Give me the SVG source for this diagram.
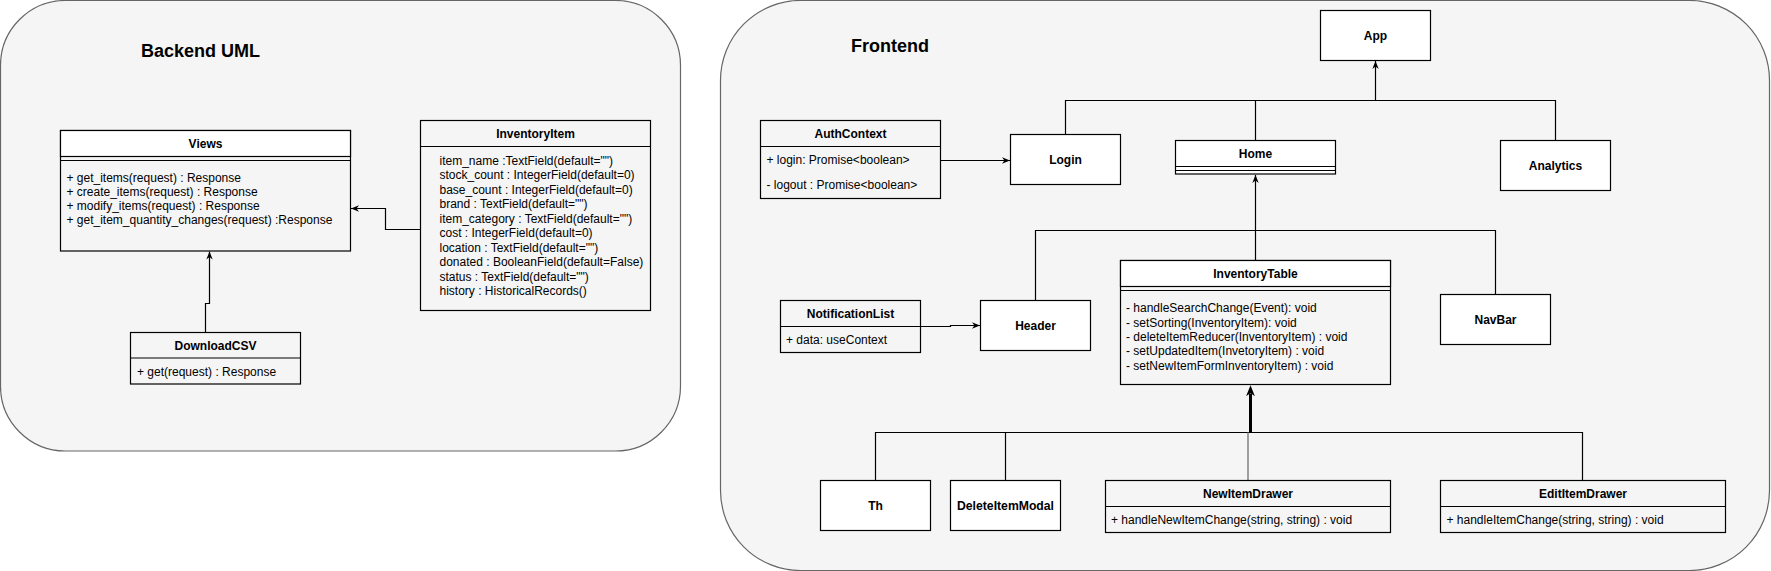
<svg xmlns="http://www.w3.org/2000/svg" width="1771" height="571" viewBox="0 0 1771 571">
<style>
.cont{fill:#f5f5f5;stroke:#666666;stroke-width:1.2}
.box{fill:#ffffff;stroke:#000000;stroke-width:1.2}
.cls{fill:#f5f5f5;stroke:#000000;stroke-width:1.2}
.hd{fill:#ffffff;stroke:#000000;stroke-width:1.2}
.ln{stroke:#000000;stroke-width:1.2;fill:none}
.t{font-family:"Liberation Sans",Arial,Helvetica,sans-serif;font-size:12px;fill:#000000;dominant-baseline:central}
.b{font-weight:bold;text-anchor:middle}
.title{font-family:"Liberation Sans",Arial,Helvetica,sans-serif;font-size:18px;font-weight:bold;fill:#000000;dominant-baseline:central}
.c{fill:none;stroke:#000000;stroke-width:1.2}
</style>
<defs>
<marker id="arr" viewBox="0 0 10 10" refX="10" refY="5" markerWidth="8" markerHeight="8" markerUnits="userSpaceOnUse" orient="auto">
<path d="M0,1 L10,5 L0,9 L3,5 Z" fill="#000000"/>
</marker>
<marker id="arrBig" viewBox="0 0 10 10" refX="2.5" refY="5" markerWidth="11" markerHeight="11" markerUnits="userSpaceOnUse" orient="auto">
<path d="M0,1 L10,5 L0,9 L3,5 Z" fill="#000000"/>
</marker>
</defs>

<g id="backend-container">
<rect class="cont" x="0.5" y="0.5" width="680" height="450.5" rx="65" ry="65"/>
<text class="title" x="141" y="51">Backend UML</text>
</g>
<g id="frontend-container">
<rect class="cont" x="720.5" y="0.5" width="1049" height="570" rx="80" ry="80"/>
<text class="title" x="851" y="46">Frontend</text>
</g>

<g id="connectors">
<path class="c" d="M420.5,229.5 H385.5 V208.5 H351" marker-end="url(#arr)"/>
<path class="c" d="M205.5,332.5 V303.5 H209.5 V251.5" marker-end="url(#arr)"/>
<path class="c" d="M940.5,160.5 H1010" marker-end="url(#arr)"/>
<path class="c" d="M1065.5,134.5 V100.5 H1555.5 V140.5"/>
<path class="c" d="M1255.5,140.5 V100.5"/>
<path class="c" d="M1375.5,100.5 V61" marker-end="url(#arr)"/>
<path class="c" d="M1035.5,300.5 V230.5 H1495.5 V294.5"/>
<path class="c" d="M1255.5,260.5 V175" marker-end="url(#arr)"/>
<path class="c" d="M920.5,326.5 H950.5 V325.5 H980" marker-end="url(#arr)"/>
<path class="c" d="M875.5,480.5 V432.5 H1582.5 V480.5"/>
<path class="c" d="M1005.5,480.5 V432.5"/>
<path d="M1248,480.5 V432.5" fill="none" stroke="#808080" stroke-width="1.5"/>
<path d="M1250.5,433 V393.5" fill="none" stroke="#000000" stroke-width="3" marker-end="url(#arrBig)"/>
</g>

<g id="views">
<rect class="cls" x="60.5" y="130.5" width="290" height="120.5"/>
<rect class="hd" x="60.5" y="130.5" width="290" height="26"/>
<line class="ln" x1="60.5" y1="160.5" x2="350.5" y2="160.5"/>
<text class="t b" x="205.5" y="143.5">Views</text>
<text class="t" x="66.5" y="177.5">+ get_items(request) : Response</text>
<text class="t" x="66.5" y="191.8">+ create_items(request) : Response</text>
<text class="t" x="66.5" y="206">+ modify_items(request) : Response</text>
<text class="t" x="66.5" y="220.3">+ get_item_quantity_changes(request) :Response</text>
</g>

<g id="inventory-item">
<rect class="cls" x="420.5" y="120.5" width="230" height="190"/>
<line class="ln" x1="420.5" y1="146.5" x2="650.5" y2="146.5"/>
<text class="t b" x="535.5" y="134">InventoryItem</text>
<text class="t" x="439.5" y="160.5">item_name :TextField(default="")</text>
<text class="t" x="439.5" y="175">stock_count : IntegerField(default=0)</text>
<text class="t" x="439.5" y="189.5">base_count : IntegerField(default=0)</text>
<text class="t" x="439.5" y="204">brand : TextField(default="")</text>
<text class="t" x="439.5" y="218.5">item_category : TextField(default="")</text>
<text class="t" x="439.5" y="233">cost : IntegerField(default=0)</text>
<text class="t" x="439.5" y="247.5">location : TextField(default="")</text>
<text class="t" x="439.5" y="262">donated : BooleanField(default=False)</text>
<text class="t" x="439.5" y="276.5">status : TextField(default="")</text>
<text class="t" x="439.5" y="291">history : HistoricalRecords()</text>
</g>

<g id="download-csv">
<rect class="cls" x="130.5" y="332.5" width="170" height="51.5"/>
<line class="ln" x1="130.5" y1="358" x2="300.5" y2="358"/>
<text class="t b" x="215.5" y="346">DownloadCSV</text>
<text class="t" x="137" y="372">+ get(request) :  Response</text>
</g>

<g id="app">
<rect class="box" x="1320.5" y="10.5" width="110" height="50"/>
<text class="t b" x="1375.5" y="35.5">App</text>
</g>

<g id="auth-context">
<rect class="cls" x="760.5" y="120.5" width="180" height="78"/>
<line class="ln" x1="760.5" y1="146.5" x2="940.5" y2="146.5"/>
<text class="t b" x="850.5" y="133.5">AuthContext</text>
<text class="t" x="766.5" y="160">+ login: Promise&lt;boolean&gt;</text>
<text class="t" x="766.5" y="185">- logout : Promise&lt;boolean&gt;</text>
</g>

<g id="login">
<rect class="box" x="1010.5" y="134.5" width="110" height="50"/>
<text class="t b" x="1065.5" y="159.5">Login</text>
</g>

<g id="home">
<rect class="box" x="1175.5" y="140.5" width="160" height="33.5"/>
<line class="ln" x1="1175.5" y1="166.5" x2="1335.5" y2="166.5"/>
<line class="ln" x1="1175.5" y1="170.5" x2="1335.5" y2="170.5"/>
<text class="t b" x="1255.5" y="153.5">Home</text>
</g>

<g id="analytics">
<rect class="box" x="1500.5" y="140.5" width="110" height="50"/>
<text class="t b" x="1555.5" y="165.5">Analytics</text>
</g>

<g id="notification-list">
<rect class="cls" x="780.5" y="300.5" width="140" height="52"/>
<line class="ln" x1="780.5" y1="326.5" x2="920.5" y2="326.5"/>
<text class="t b" x="850.5" y="314">NotificationList</text>
<text class="t" x="786" y="339.5">+ data: useContext</text>
</g>

<g id="header">
<rect class="box" x="980.5" y="300.5" width="110" height="50"/>
<text class="t b" x="1035.5" y="326">Header</text>
</g>

<g id="inventory-table">
<rect class="cls" x="1120.5" y="260.5" width="270" height="124"/>
<rect class="hd" x="1120.5" y="260.5" width="270" height="26"/>
<line class="ln" x1="1120.5" y1="290.5" x2="1390.5" y2="290.5"/>
<text class="t b" x="1255.5" y="274">InventoryTable</text>
<text class="t" x="1126" y="308.3">- handleSearchChange(Event): void</text>
<text class="t" x="1126" y="322.7">- setSorting(InventoryItem): void</text>
<text class="t" x="1126" y="337">- deleteItemReducer(InventoryItem) : void</text>
<text class="t" x="1126" y="351.4">- setUpdatedItem(InvetoryItem) : void</text>
<text class="t" x="1126" y="365.8">- setNewItemFormInventoryItem) : void</text>
</g>

<g id="navbar">
<rect class="box" x="1440.5" y="294.5" width="110" height="50"/>
<text class="t b" x="1495.5" y="319.5">NavBar</text>
</g>

<g id="th">
<rect class="box" x="820.5" y="480.5" width="110" height="50"/>
<text class="t b" x="875.5" y="505.5">Th</text>
</g>

<g id="delete-item-modal">
<rect class="box" x="950.5" y="480.5" width="110" height="50"/>
<text class="t b" x="1005.5" y="505.5" textLength="97" lengthAdjust="spacingAndGlyphs">DeleteItemModal</text>
</g>

<g id="new-item-drawer">
<rect class="cls" x="1105.5" y="480.5" width="285" height="52"/>
<line class="ln" x1="1105.5" y1="506.5" x2="1390.5" y2="506.5"/>
<text class="t b" x="1248" y="493.5">NewItemDrawer</text>
<text class="t" x="1111" y="519.5">+ handleNewItemChange(string, string) : void</text>
</g>

<g id="edit-item-drawer">
<rect class="cls" x="1440.5" y="480.5" width="285" height="52"/>
<line class="ln" x1="1440.5" y1="506.5" x2="1725.5" y2="506.5"/>
<text class="t b" x="1583" y="493.5">EditItemDrawer</text>
<text class="t" x="1446.5" y="519.5">+ handleItemChange(string, string) : void</text>
</g>
</svg>
